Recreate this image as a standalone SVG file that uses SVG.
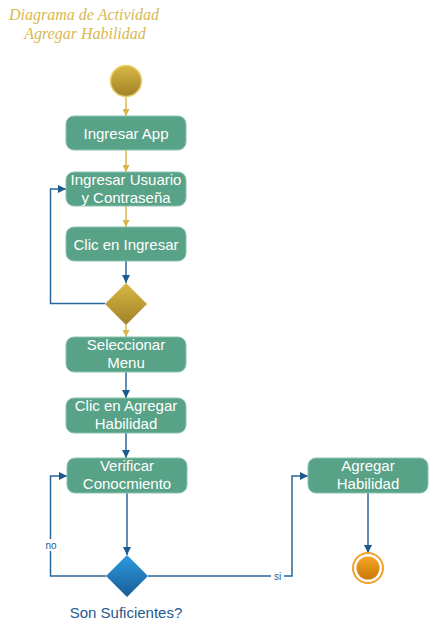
<svg xmlns="http://www.w3.org/2000/svg" width="431" height="631" viewBox="0 0 431 631">
<style>
.title{font-family:"Liberation Serif",serif;font-style:italic;font-size:16px;fill:#d9b850;text-anchor:middle}
.node rect{fill:#58a287;stroke:#8cc4b0;stroke-width:1}
.node text{font-family:"Liberation Sans",Arial,sans-serif;font-size:15px;fill:#ffffff;text-anchor:middle}
.gold{stroke:#d8b64a;stroke-width:1.5;fill:none;marker-end:url(#ag)}
.blue{stroke:#2b6699;stroke-width:1.5;fill:none;marker-end:url(#ab)}
.lbl{font-family:"Liberation Sans",Arial,sans-serif;font-size:10px;fill:#1f5a8f;text-anchor:middle}
</style>
<defs>
<marker id="ag" viewBox="0 0 10 10" refX="10" refY="5" markerWidth="7" markerHeight="7" orient="auto" markerUnits="userSpaceOnUse"><path d="M0,0 L10,5 L0,10 z" fill="#d8b64a"/></marker>
<marker id="ab" viewBox="0 0 10 10" refX="10" refY="5" markerWidth="8" markerHeight="8" orient="auto" markerUnits="userSpaceOnUse"><path d="M0,0 L10,5 L0,10 z" fill="#1f5a8f"/></marker>
<linearGradient id="gGold" x1="0" y1="0" x2="0" y2="1"><stop offset="0" stop-color="#d8b843"/><stop offset="1" stop-color="#a08128"/></linearGradient>
<linearGradient id="gBlue" x1="0" y1="0" x2="0" y2="1"><stop offset="0" stop-color="#2c9ae0"/><stop offset="1" stop-color="#1a5c96"/></linearGradient>
<linearGradient id="gOr" x1="0" y1="0" x2="0" y2="1"><stop offset="0" stop-color="#f5a623"/><stop offset="1" stop-color="#c9780a"/></linearGradient>
</defs>
<g id="title">
<text class="title" x="84" y="20">Diagrama de Actividad</text>
<text class="title" x="85" y="39">Agregar Habilidad</text>
</g>
<g id="connectors">
<path class="gold" d="M126,97 V116"/>
<path class="gold" d="M126,150 V172"/>
<path class="gold" d="M126,206 V227"/>
<path class="blue" d="M126,261 V283"/>
<path class="gold" d="M126,325 V337"/>
<path class="blue" d="M105,303.5 H50.5 V189 H66"/>
<path class="blue" d="M126,372 V398"/>
<path class="blue" d="M126,433 V458"/>
<path class="blue" d="M127,493 V555"/>
<path class="blue" d="M106,576 H50.5 V476 H67"/>
<path class="blue" d="M148,576 H292 V476 H308"/>
<path class="blue" d="M368,493 V553"/>
<rect x="44" y="539" width="14" height="12" fill="#ffffff"/>
<text class="lbl" x="51" y="549">no</text>
<rect x="271" y="570" width="13" height="12" fill="#ffffff"/>
<text class="lbl" x="277.5" y="579.5">si</text>
</g>
<g id="start"><circle cx="126" cy="81" r="15.5" fill="url(#gGold)" stroke="#ecd070" stroke-width="1.5"/></g>
<g id="n1" class="node"><rect x="66" y="116" width="120" height="34" rx="8"/><text x="126" y="138.5">Ingresar App</text></g>
<g id="n2" class="node"><rect x="66" y="172" width="120" height="34" rx="8"/><text x="126" y="185">Ingresar Usuario</text><text x="126" y="203">y Contraseña</text></g>
<g id="n3" class="node"><rect x="66" y="227" width="120" height="34" rx="8"/><text x="126" y="249.5">Clic en Ingresar</text></g>
<g id="d1"><path d="M126,283 L147,304 L126,325 L105,304 z" fill="url(#gGold)"/></g>
<g id="n4" class="node"><rect x="66" y="337" width="120" height="35" rx="8"/><text x="126" y="350">Seleccionar</text><text x="126" y="368">Menu</text></g>
<g id="n5" class="node"><rect x="66" y="398" width="120" height="35" rx="8"/><text x="126" y="411">Clic en Agregar</text><text x="126" y="429">Habilidad</text></g>
<g id="n6" class="node"><rect x="67" y="458" width="120" height="35" rx="8"/><text x="127" y="471">Verificar</text><text x="127" y="489">Conocmiento</text></g>
<g id="d2"><path d="M127,555 L148,576 L127,597 L106,576 z" fill="url(#gBlue)"/><text x="126" y="618" font-family="Liberation Sans,Arial,sans-serif" font-size="15" fill="#1f5a8f" text-anchor="middle">Son Suficientes?</text></g>
<g id="n7" class="node"><rect x="308" y="458" width="120" height="35" rx="8"/><text x="368" y="471">Agregar</text><text x="368" y="489">Habilidad</text></g>
<g id="end"><circle cx="368" cy="568" r="15" fill="#ffffff" stroke="#f2a12a" stroke-width="2"/><circle cx="368" cy="568" r="11.5" fill="url(#gOr)"/></g>
</svg>
